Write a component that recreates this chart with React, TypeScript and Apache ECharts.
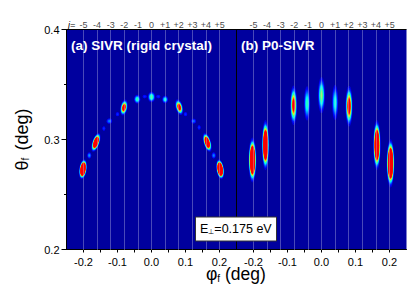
import React, { useEffect, useRef } from "react";
import * as echarts from "echarts";

const jLabels = ["-5", "-4", "-3", "-2", "-1", "0", "+1", "+2", "+3", "+4", "+5"];
const jPhi = [-0.203, -0.1635, -0.123, -0.082, -0.041, 0, 0.041, 0.082, 0.123, 0.1635, 0.203];

// [phi, theta, half-width phi, half-width theta, peak intensity, tilt degrees]
const spotsA: number[][] = [
  [-0.2015, 0.273, 0.0112, 0.0092, 4, -8],
  [-0.1635, 0.2974, 0.0108, 0.009, 2.4, -18],
  [-0.081, 0.329, 0.0106, 0.0074, 1.3, -10],
  [-0.042, 0.3366, 0.0092, 0.004, 0.48, 0],
  [0, 0.3387, 0.0108, 0.0048, 0.52, 0],
  [0.04, 0.3364, 0.0085, 0.0034, 0.42, 0],
  [0.0815, 0.3294, 0.0106, 0.0074, 1.25, 14],
  [0.164, 0.2974, 0.0108, 0.009, 2.2, 16],
  [0.202, 0.273, 0.0112, 0.0092, 4, 8],
  [-0.124, 0.3167, 0.0085, 0.0024, 0.26, 25],
  [0.124, 0.3167, 0.0072, 0.0022, 0.24, -25],
  [-0.183, 0.2855, 0.0058, 0.0028, 0.28, 0],
  [0.183, 0.2855, 0.0058, 0.0028, 0.26, 0],
  [-0.14, 0.31, 0.0042, 0.002, 0.18, 0],
  [0.14, 0.311, 0.0042, 0.002, 0.18, 0],
  [-0.1, 0.323, 0.005, 0.0018, 0.18, 0],
  [0.1, 0.323, 0.005, 0.0018, 0.18, 0],
  [-0.02, 0.339, 0.006, 0.0016, 0.17, 0],
  [0.02, 0.339, 0.006, 0.0016, 0.17, 0],
];
const spotsB: number[][] = [
  [-0.203, 0.2813, 0.0115, 0.0205, 3.5, 0],
  [-0.1647, 0.2949, 0.0106, 0.0228, 2.8, 0],
  [-0.082, 0.3312, 0.0104, 0.018, 1.1, 0],
  [-0.0424, 0.3328, 0.0088, 0.0155, 0.46, 0],
  [0, 0.3403, 0.0102, 0.0165, 0.6, 0],
  [0.04, 0.3337, 0.0088, 0.016, 0.42, 0],
  [0.081, 0.3303, 0.0106, 0.0185, 1.25, 0],
  [0.163, 0.2949, 0.011, 0.0228, 2.8, 0],
  [0.203, 0.2783, 0.0115, 0.022, 3.5, 0],
];

const yTicks = { min: 0.2, max: 0.4, interval: 0.1 };
const xTicks = { min: -0.25, max: 0.25, interval: 0.05 };
const navy = "#00009e";
const font = "Liberation Sans";

function jet(v: number): string {
  const stops: [number, number[]][] = [
    [0, [0, 0, 158]],
    [0.13, [0, 0, 255]],
    [0.36, [0, 255, 255]],
    [0.5, [60, 255, 140]],
    [0.64, [255, 255, 0]],
    [0.86, [255, 0, 0]],
    [1, [250, 0, 0]],
  ];
  for (let i = 1; i < stops.length; i++) {
    if (v <= stops[i][0]) {
      const [a, ca] = stops[i - 1];
      const [b, cb] = stops[i];
      const t = (v - a) / (b - a);
      return `rgb(${ca.map((c, k) => Math.round(c + (cb[k] - c) * t)).join(",")})`;
    }
  }
  return "rgb(250,0,0)";
}

const renderSpot = (_: any, api: any) => {
  const c = api.coord([api.value(0), api.value(1)]);
  const s = api.size([api.value(2), api.value(3)]);
  const peak = api.value(4);
  const tilt = (api.value(5) * Math.PI) / 180;
  const v0 = 0.09;
  const top = Math.min(peak, 1);
  const steps = 14;
  const children: any[] = [];
  for (let i = 0; i <= steps; i++) {
    const v = v0 + ((top - v0) * i) / steps;
    const r = Math.sqrt(Math.log(peak / v) / Math.log(peak / v0));
    children.push({
      type: "ellipse",
      x: c[0],
      y: c[1],
      rotation: tilt,
      shape: { cx: 0, cy: 0, rx: Math.max(s[0] * r, 0.3), ry: Math.max(s[1] * r, 0.3) },
      style: { fill: jet(v) },
    });
  }
  return { type: "group", children };
};

const axisText = { color: "#000", fontFamily: font, fontSize: 11 };

const xAxisFor = (gridIndex: number) => ({
  type: "value",
  gridIndex,
  ...xTicks,
  axisLine: { show: true, onZero: false, lineStyle: { color: "#000", width: 1 } },
  axisTick: { show: true, length: 3, lineStyle: { color: "#000" } },
  splitLine: { show: false },
  axisLabel: {
    ...axisText,
    margin: 7,
    showMinLabel: false,
    showMaxLabel: false,
    formatter: (v: number) => (Math.round(v * 100) % 10 === 0 ? v.toFixed(1) : ""),
  },
});

const yAxisFor = (gridIndex: number, visible: boolean) => ({
  type: "value",
  gridIndex,
  ...yTicks,
  name: visible ? "{t|θ}{s|f}{d|(deg)}" : "",
  nameLocation: "middle",
  nameGap: 36,
  nameRotate: 90,
  nameTextStyle: {
    rich: {
      t: { fontFamily: font, fontSize: 18, color: "#000" },
      d: { fontFamily: font, fontSize: 18, color: "#000", padding: [0, 0, 0, 7] },
      s: { fontFamily: font, fontSize: 10, color: "#000", verticalAlign: "bottom", padding: [8, 0, 0, 0] },
    },
  },
  axisLine: { show: true, onZero: false, lineStyle: { color: "#000", width: 1 } },
  axisTick: { show: visible, length: 5, lineStyle: { color: "#000" } },
  minorTick: { show: visible, splitNumber: 2, length: 2.5, lineStyle: { color: "#000" } },
  splitLine: { show: false },
  axisLabel: { ...axisText, show: visible, margin: 7, formatter: (v: number) => v.toFixed(1) },
});

const spotSeries = (index: number, data: number[][]) => ({
  type: "custom",
  xAxisIndex: index,
  yAxisIndex: index,
  renderItem: renderSpot,
  data,
  clip: true,
  silent: true,
  z: 2,
});

const lineSeries = (index: number) => ({
  type: "line",
  xAxisIndex: index,
  yAxisIndex: index,
  data: [],
  silent: true,
  z: 5,
  markLine: {
    silent: true,
    symbol: "none",
    animation: false,
    lineStyle: { color: "#c4c4e6", type: [1, 1], width: 1, opacity: 0.75 },
    label: {
      show: true,
      position: "end",
      distance: 0.5,
      formatter: "{b}",
      color: "#000",
      fontFamily: font,
      fontSize: 9,
    },
    data: jPhi.map((v, i) => ({ name: jLabels[i], xAxis: v })),
  },
});

export default function App() {
  const ref = useRef<HTMLDivElement>(null);
  useEffect(() => {
    document.body.style.margin = "0";
    const chart = echarts.init(ref.current!, undefined, { renderer: "svg" });
    chart.setOption({
      animation: false,
      backgroundColor: "#fff",
      grid: [
        { left: 66.5, top: 29.5, width: 170, height: 220, show: true, backgroundColor: navy, borderWidth: 0 },
        { left: 236.5, top: 29.5, width: 170, height: 220, show: true, backgroundColor: navy, borderWidth: 0 },
      ],
      xAxis: [xAxisFor(0), xAxisFor(1)],
      yAxis: [yAxisFor(0, true), yAxisFor(1, false)],
      series: [spotSeries(0, spotsA), spotSeries(1, spotsB), lineSeries(0), lineSeries(1)],
      graphic: [
        {
          type: "line",
          z: 20,
          shape: { x1: 66.5, y1: 29.5, x2: 406.5, y2: 29.5 },
          style: { stroke: "#000", lineWidth: 1 },
        },
        {
          type: "text",
          z: 20,
          x: 71,
          y: 38,
          style: { text: "(a) SIVR (rigid crystal)", fill: "#fff", font: `bold 13.5px "${font}"` },
        },
        {
          type: "text",
          z: 20,
          x: 241,
          y: 38,
          style: { text: "(b) P0-SIVR", fill: "#fff", font: `bold 13.5px "${font}"` },
        },
        {
          type: "text",
          z: 20,
          x: 68,
          y: 20.5,
          style: { text: "j=", fill: "#000", font: `italic 9px "${font}"` },
        },
        {
          type: "rect",
          z: 30,
          shape: { x: 195.5, y: 217, width: 81, height: 24 },
          style: { fill: "#fff", stroke: "#333", lineWidth: 1 },
        },
        {
          type: "text",
          z: 31,
          x: 200,
          y: 222,
          style: {
            text: "{e|E}{s|⊥}{e|=0.175 eV}",
            rich: {
              e: { fontFamily: font, fontSize: 12.5, fill: "#000" },
              s: { fontFamily: font, fontSize: 7, fill: "#000", verticalAlign: "bottom", padding: [5, 0, 0, 0] },
            },
          },
        },
        {
          type: "text",
          z: 20,
          x: 206,
          y: 265,
          style: {
            text: "{t|φ}{s|f}{t| (deg)}",
            rich: {
              t: { fontFamily: font, fontSize: 17.5, fill: "#000" },
              s: { fontFamily: font, fontSize: 10, fill: "#000", verticalAlign: "bottom", padding: [8, 0, 0, 0] },
            },
          },
        },
      ],
    });
    return () => chart.dispose();
  }, []);
  return <div ref={ref} style={{ position: "absolute", left: 0, top: 0, width: 415, height: 294 }} />;
}
